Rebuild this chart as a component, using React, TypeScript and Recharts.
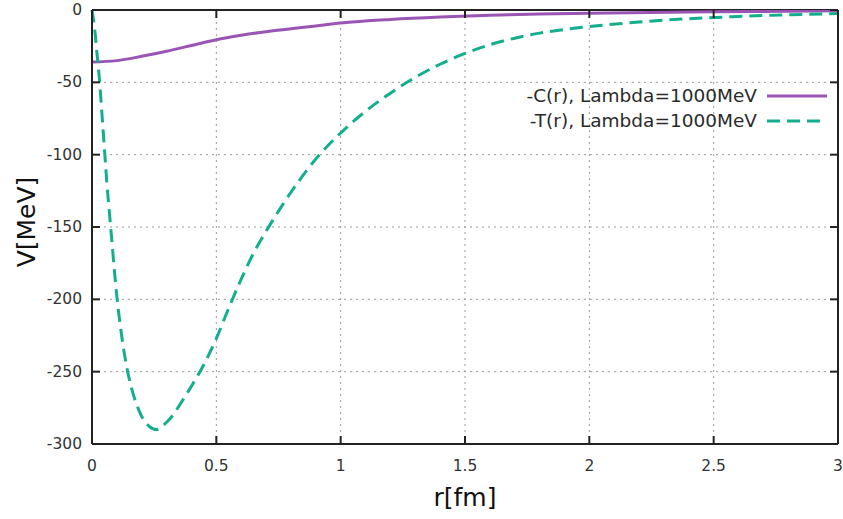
import React from "react";
import { LineChart, Line, XAxis, YAxis, CartesianGrid, ReferenceLine } from "recharts";

// r [fm] sample points and the potentials
const rCentral = [0, 0.1, 0.2, 0.3, 0.4, 0.5, 0.6, 0.7, 0.8, 0.9, 1.0, 1.2, 1.4, 1.6, 1.8, 2.0, 2.5, 3.0];
const vCentral = [-36, -35, -32, -28.5, -24.5, -20.5, -17.5, -15, -13, -11, -9, -6.5, -4.8, -3.6, -2.8, -2.2, -1.2, -0.6];

const rTensor = [
  0, 0.01, 0.02, 0.03, 0.04, 0.05, 0.06, 0.07, 0.08, 0.09, 0.1, 0.12, 0.14, 0.16, 0.18, 0.2, 0.22, 0.24,
  0.26, 0.28, 0.3, 0.33, 0.36, 0.4, 0.45, 0.5, 0.55, 0.6, 0.65, 0.7, 0.75, 0.8, 0.85, 0.9, 0.95, 1.0,
  1.1, 1.2, 1.3, 1.4, 1.5, 1.6, 1.7, 1.8, 1.9, 2.0, 2.2, 2.4, 2.6, 2.8, 3.0,
];
const vTensor = [
  0, -12, -30, -48, -72, -96, -120, -140, -160, -180, -198, -226, -247, -262, -273, -281, -286, -289,
  -290, -288, -285, -279, -271, -260, -245, -227, -206, -186, -168, -153, -139, -126, -114, -103, -93.5, -85,
  -70, -57.5, -46.5, -37.5, -30, -24, -19.5, -16, -13.5, -11.5, -8.3, -6, -4.5, -3.3, -2.5,
];

const xTicks = [0, 0.5, 1, 1.5, 2, 2.5, 3];
const yTicks = [0, -50, -100, -150, -200, -250, -300];

const seriesNames = ["-C(r), Lambda=1000MeV", "-T(r), Lambda=1000MeV"];
const colors = ["#9a55b4", "#13ae8c"];

const centralData = rCentral.map((r, i) => ({ r, v: vCentral[i] }));
const tensorData = rTensor.map((r, i) => ({ r, v: vTensor[i] }));

// plot box in pixels
const LEFT = 92;
const RIGHT = 838;
const TOP = 10;
const BOTTOM = 444;
const font = "'DejaVu Sans', Verdana, sans-serif";

const XTick = (props: any) => {
  const { x, payload } = props;
  return (
    <g>
      <line x1={x} x2={x} y1={BOTTOM} y2={BOTTOM - 8} stroke="#222" strokeWidth={2} />
      <line x1={x} x2={x} y1={TOP} y2={TOP + 8} stroke="#222" strokeWidth={2} />
      <text x={x} y={466} textAnchor="middle" dominantBaseline="central" fontSize={15.5} fill="#333" fontFamily={font}>
        {payload.value}
      </text>
    </g>
  );
};

const YTick = (props: any) => {
  const { y, payload } = props;
  return (
    <g>
      <line x1={LEFT} x2={LEFT + 8} y1={y} y2={y} stroke="#222" strokeWidth={2} />
      <line x1={RIGHT} x2={RIGHT - 8} y1={y} y2={y} stroke="#222" strokeWidth={2} />
      <text x={82} y={y} textAnchor="end" dominantBaseline="central" fontSize={15.5} fill="#333" fontFamily={font}>
        {payload.value}
      </text>
    </g>
  );
};

// legend drawn as a plain overlay so it doesn't eat chart space
const LegendBox = () => (
  <div style={{ position: "absolute", top: 83, right: 843 - 827, fontFamily: font, fontSize: 18.5, color: "#2a2a2a" }}>
    {seriesNames.map((name, i) => (
      <div key={name} style={{ display: "flex", justifyContent: "flex-end", alignItems: "center", height: 25 }}>
        <span>{name}</span>
        <svg width={60} height={10} style={{ marginLeft: 10 }}>
          <line x1={0} x2={60} y1={5} y2={5} stroke={colors[i]} strokeWidth={3} strokeDasharray={i === 1 ? "13 7" : undefined} />
        </svg>
      </div>
    ))}
  </div>
);

const App: React.FC = () => (
  <div style={{ position: "absolute", left: 0, top: 0, width: 843, height: 519, background: "#fff" }}>
    <LineChart width={843} height={519} margin={{ top: TOP, right: 843 - RIGHT, left: 0, bottom: 0 }}>
      <CartesianGrid stroke="#999" strokeDasharray="2 4" />
      <XAxis
        dataKey="r"
        type="number"
        domain={[0, 3]}
        ticks={xTicks}
        height={519 - BOTTOM}
        tick={<XTick />}
        tickLine={false}
        axisLine={{ stroke: "#222", strokeWidth: 2 }}
        label={{
          content: () => (
            <text x={465} y={497} textAnchor="middle" dominantBaseline="central" fontSize={25} fill="#111" fontFamily={font}>
              r[fm]
            </text>
          ),
        }}
      />
      <YAxis
        type="number"
        domain={[-300, 0]}
        ticks={yTicks}
        width={LEFT}
        tick={<YTick />}
        tickLine={false}
        allowDataOverflow
        axisLine={{ stroke: "#222", strokeWidth: 2 }}
        label={{
          content: () => (
            <text
              x={26}
              y={222}
              transform="rotate(-90 26 222)"
              textAnchor="middle"
              dominantBaseline="central"
              fontSize={25}
              fill="#111"
              fontFamily={font}
            >
              V[MeV]
            </text>
          ),
        }}
      />
      <ReferenceLine y={0} stroke="#222" strokeWidth={2} />
      <ReferenceLine x={3} stroke="#222" strokeWidth={2} />
      <Line
        data={centralData}
        dataKey="v"
        name={seriesNames[0]}
        type="monotone"
        stroke={colors[0]}
        strokeWidth={3}
        dot={false}
        isAnimationActive={false}
      />
      <Line
        data={tensorData}
        dataKey="v"
        name={seriesNames[1]}
        type="monotone"
        stroke={colors[1]}
        strokeWidth={3}
        strokeDasharray="13 7"
        dot={false}
        isAnimationActive={false}
      />
    </LineChart>
    <LegendBox />
  </div>
);

export default App;
